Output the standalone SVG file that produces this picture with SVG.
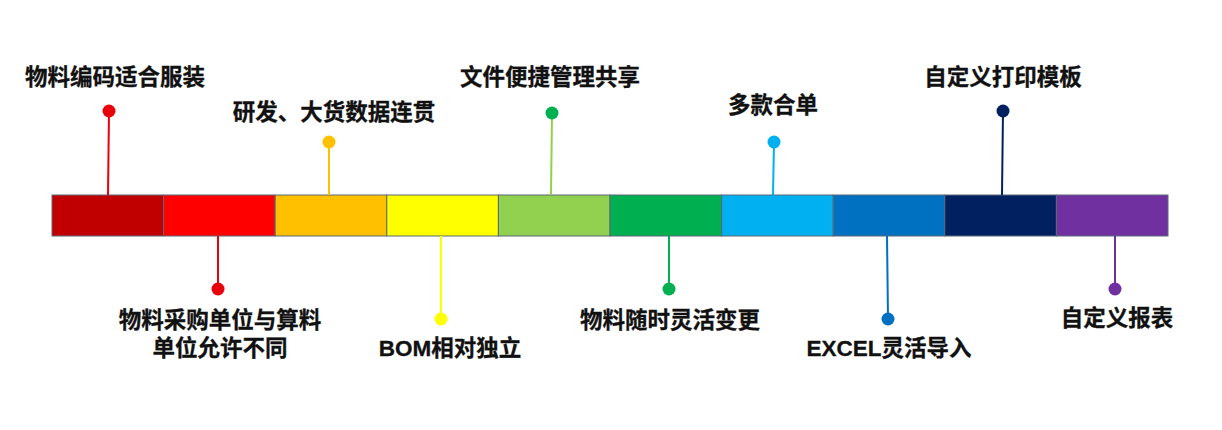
<svg xmlns="http://www.w3.org/2000/svg" width="1222" height="430" viewBox="0 0 1222 430">
<style>
.lbl{font-family:"Liberation Sans","Noto Sans CJK SC",sans-serif;font-size:22.5px;font-weight:bold;fill:#111;text-anchor:middle;stroke:#111;stroke-width:0.3}
.seg{stroke:#5A6878;stroke-width:1}
.pin{stroke-width:2;fill:none}
</style>
<rect width="1222" height="430" fill="#fff"/>
<g id="bar">
<rect class="seg" x="52" y="195" width="111.6" height="41" fill="#C00000"/>
<rect class="seg" x="163.6" y="195" width="111.6" height="41" fill="#FF0000"/>
<rect class="seg" x="275.2" y="195" width="111.6" height="41" fill="#FFC000"/>
<rect class="seg" x="386.8" y="195" width="111.6" height="41" fill="#FFFF00"/>
<rect class="seg" x="498.4" y="195" width="111.6" height="41" fill="#92D050"/>
<rect class="seg" x="610" y="195" width="111.6" height="41" fill="#00B050"/>
<rect class="seg" x="721.6" y="195" width="111.6" height="41" fill="#00B0F0"/>
<rect class="seg" x="833.2" y="195" width="111.6" height="41" fill="#0070C0"/>
<rect class="seg" x="944.8" y="195" width="111.6" height="41" fill="#002060"/>
<rect class="seg" x="1056.4" y="195" width="111.6" height="41" fill="#7030A0"/>
</g>
<g id="connectors">
<line class="pin" x1="109" y1="111" x2="108" y2="195" stroke="#E8000B"/>
<line class="pin" x1="329" y1="142" x2="329" y2="195" stroke="#FFC000"/>
<line class="pin" x1="552" y1="113" x2="551" y2="195" stroke="#92D050"/>
<line class="pin" x1="774" y1="142" x2="773" y2="195" stroke="#00B0F0"/>
<line class="pin" x1="1003" y1="111" x2="1002" y2="195" stroke="#002060"/>
<line class="pin" x1="218" y1="236" x2="218" y2="289" stroke="#E8000B"/>
<line class="pin" x1="441" y1="236" x2="441" y2="319" stroke="#FFFF00"/>
<line class="pin" x1="669" y1="236" x2="669" y2="289" stroke="#00B050"/>
<line class="pin" x1="887" y1="236" x2="888" y2="319" stroke="#0070C0"/>
<line class="pin" x1="1115" y1="236" x2="1115" y2="289" stroke="#7030A0"/>
</g>
<g id="n1"><circle cx="109" cy="111" r="6.5" fill="#E8000B"/><text class="lbl" x="115" y="85">物料编码适合服装</text></g>
<g id="n2"><circle cx="329" cy="142" r="6.5" fill="#FFC000"/><text class="lbl" x="334" y="120">研发、大货数据连贯</text></g>
<g id="n3"><circle cx="552" cy="113" r="6.5" fill="#00B050"/><text class="lbl" x="550" y="85">文件便捷管理共享</text></g>
<g id="n4"><circle cx="774" cy="142" r="6.5" fill="#00B0F0"/><text class="lbl" x="773" y="113">多款合单</text></g>
<g id="n5"><circle cx="1003" cy="111" r="6.5" fill="#002060"/><text class="lbl" x="1003" y="85">自定义打印模板</text></g>
<g id="n6"><circle cx="218" cy="289" r="6.5" fill="#E8000B"/><text class="lbl" x="220" y="328">物料采购单位与算料</text><text class="lbl" x="220" y="356">单位允许不同</text></g>
<g id="n7"><circle cx="441" cy="319" r="6.5" fill="#FFFF00"/><text class="lbl" x="450" y="356">BOM相对独立</text></g>
<g id="n8"><circle cx="669" cy="289" r="6.5" fill="#00B050"/><text class="lbl" x="670" y="328">物料随时灵活变更</text></g>
<g id="n9"><circle cx="888" cy="319" r="6.5" fill="#0070C0"/><text class="lbl" x="889" y="356">EXCEL灵活导入</text></g>
<g id="n10"><circle cx="1115" cy="289" r="6.5" fill="#7030A0"/><text class="lbl" x="1117" y="326">自定义报表</text></g>
</svg>
